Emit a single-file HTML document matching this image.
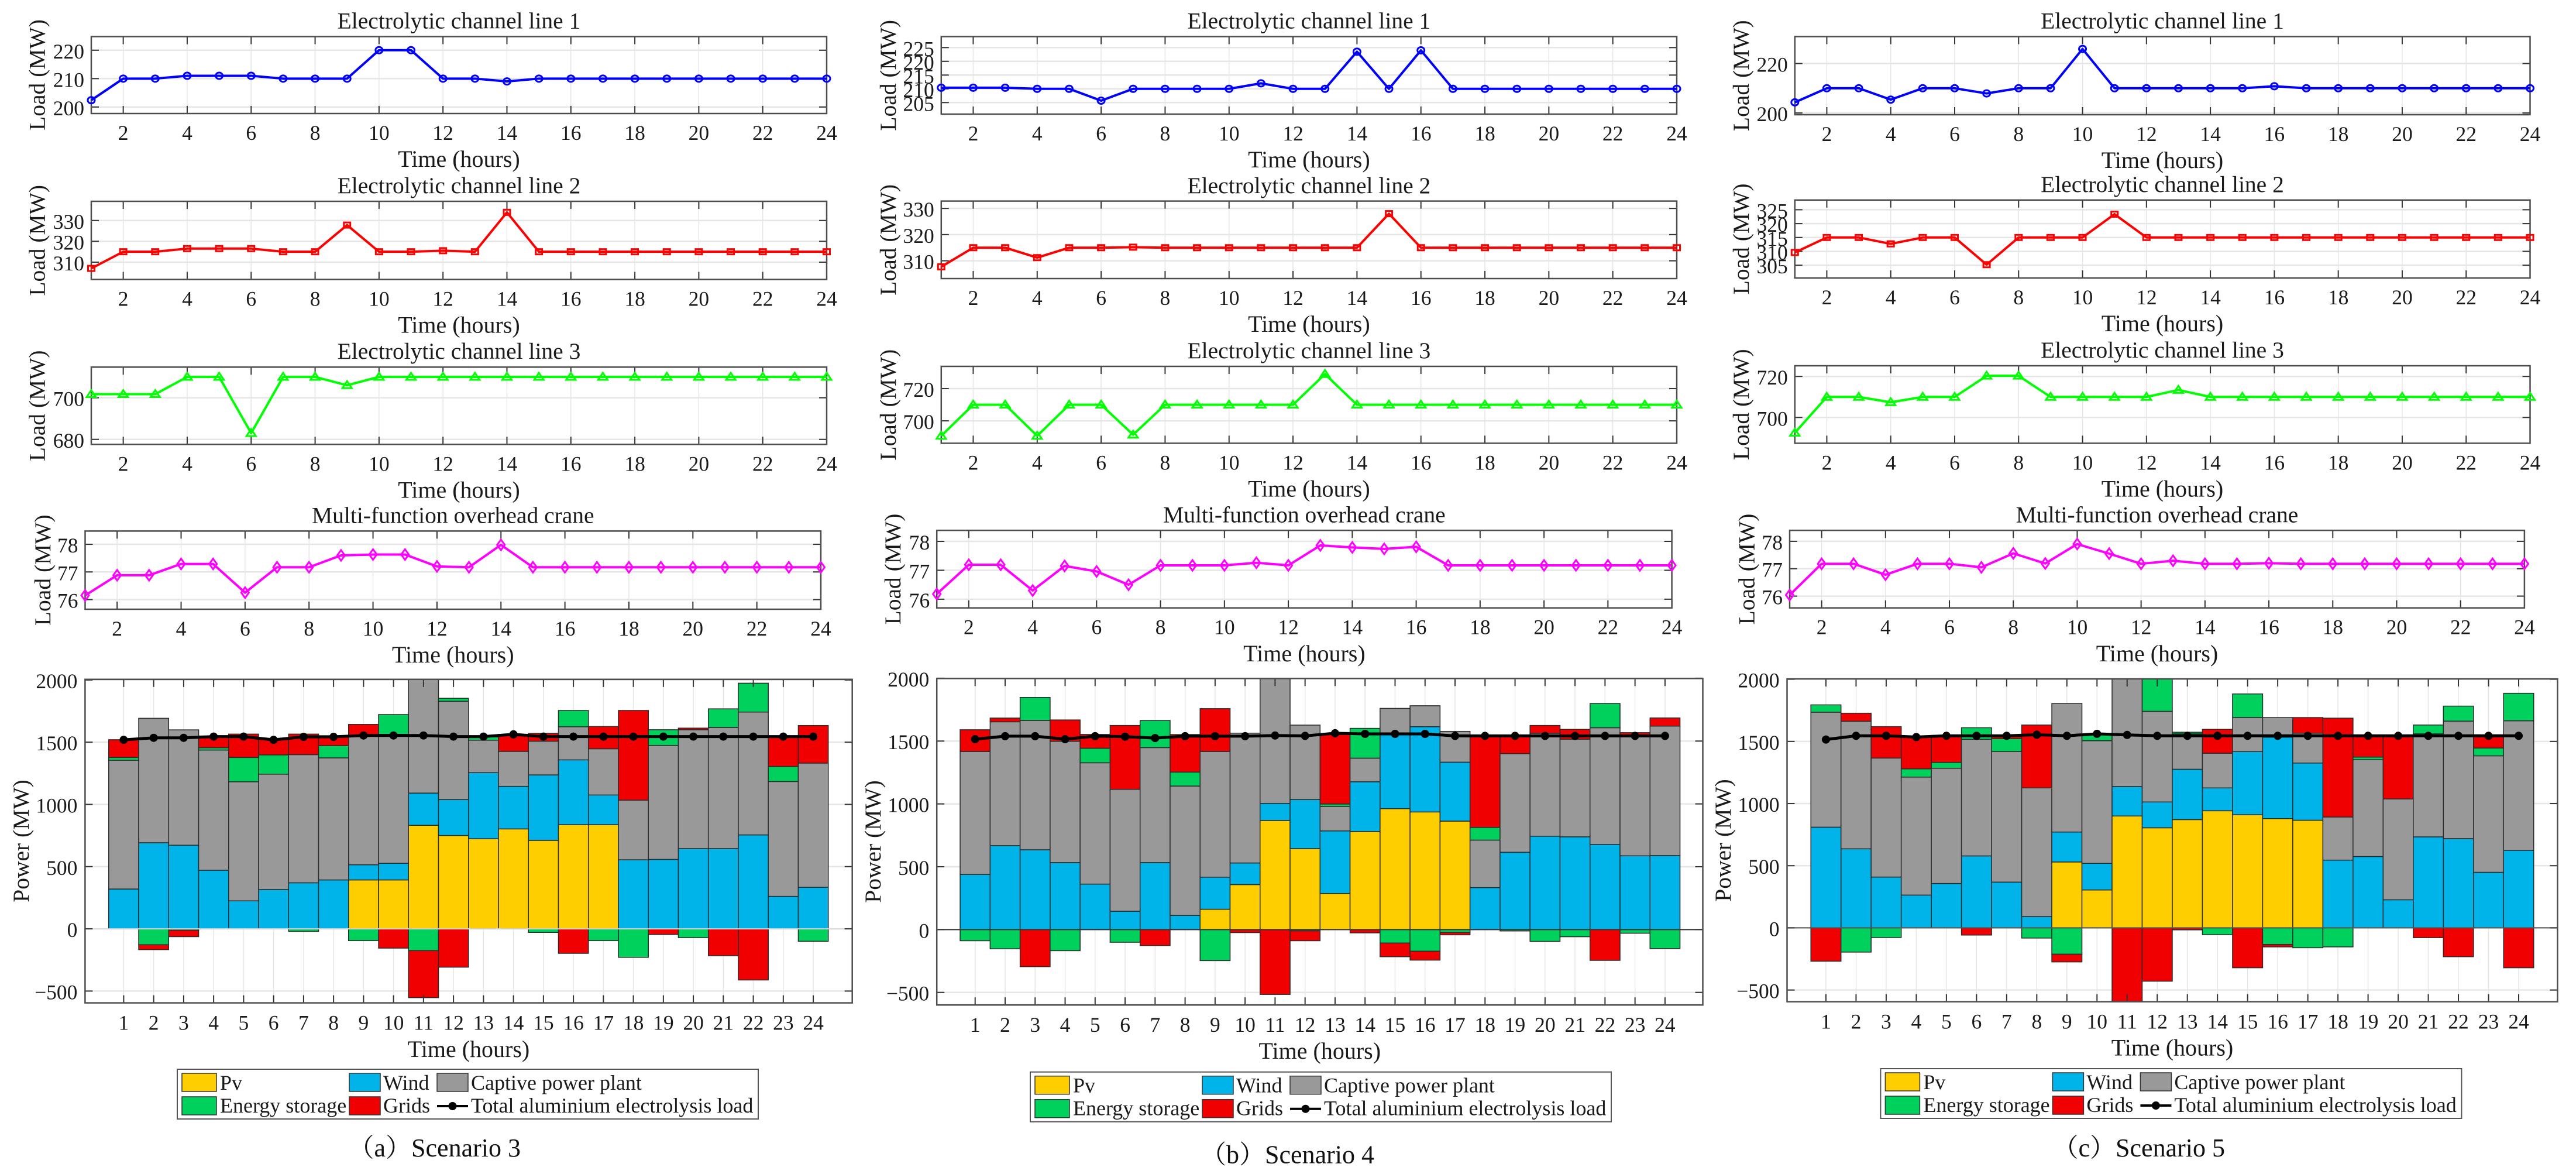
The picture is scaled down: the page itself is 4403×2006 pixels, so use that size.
<!DOCTYPE html>
<html lang="en">
<head>
<meta charset="utf-8">
<title>Load and power balance for scenarios 3, 4 and 5</title>
<style>
  html, body { margin: 0; padding: 0; background: #ffffff; }
  svg { display: block; }
  text { font-family: "Liberation Serif", "Noto Serif CJK SC", serif; fill: #1a1a1a; }
  .title { font-size: 39.5px; text-anchor: middle; }
  .xlabel { font-size: 40px; text-anchor: middle; }
  .ylabel { font-size: 39.5px; text-anchor: middle; }
  .legend-text { font-size: 36px; }
  .caption { font-size: 44px; text-anchor: end; fill: #111; }
</style>
</head>
<body>
<svg id="figure" xmlns="http://www.w3.org/2000/svg" width="4403" height="2006" viewBox="0 0 4403 2006">
  <rect x="0" y="0" width="4403" height="2006" fill="#ffffff"/>
  <g id="plots"></g>

  <g>
    <text class="title" x="784.5" y="48.5">Electrolytic channel line 1</text>
    <text class="title" x="784.5" y="330">Electrolytic channel line 2</text>
    <text class="title" x="784.5" y="613">Electrolytic channel line 3</text>
    <text class="title" x="774.3" y="893.5">Multi-function overhead crane</text>
    <text class="xlabel" x="784.5" y="285">Time (hours)</text>
    <text class="xlabel" x="784.5" y="568.5">Time (hours)</text>
    <text class="xlabel" x="784.5" y="850.5">Time (hours)</text>
    <text class="xlabel" x="774.3" y="1132">Time (hours)</text>
    <text class="xlabel" x="801" y="1806">Time (hours)</text>
    <text class="ylabel" transform="translate(76.5 128) rotate(-90)">Load (MW)</text>
    <text class="ylabel" transform="translate(76.5 410.8) rotate(-90)">Load (MW)</text>
    <text class="ylabel" transform="translate(76.5 693.3) rotate(-90)">Load (MW)</text>
    <text class="ylabel" transform="translate(86 974.2) rotate(-90)">Load (MW)</text>
    <text class="ylabel" transform="translate(49 1437) rotate(-90)">Power (MW)</text>
    <text class="caption" x="890" y="1976">（a）Scenario 3</text>
  </g>

  <g>
    <text class="title" x="2237.4" y="48.5">Electrolytic channel line 1</text>
    <text class="title" x="2237.4" y="330">Electrolytic channel line 2</text>
    <text class="title" x="2237.4" y="612">Electrolytic channel line 3</text>
    <text class="title" x="2229.4" y="892.5">Multi-function overhead crane</text>
    <text class="xlabel" x="2237.4" y="286">Time (hours)</text>
    <text class="xlabel" x="2237.4" y="567">Time (hours)</text>
    <text class="xlabel" x="2237.4" y="848.5">Time (hours)</text>
    <text class="xlabel" x="2229.4" y="1130">Time (hours)</text>
    <text class="xlabel" x="2255.8" y="1809">Time (hours)</text>
    <text class="ylabel" transform="translate(1531 128.8) rotate(-90)">Load (MW)</text>
    <text class="ylabel" transform="translate(1531 409.8) rotate(-90)">Load (MW)</text>
    <text class="ylabel" transform="translate(1531 691.7) rotate(-90)">Load (MW)</text>
    <text class="ylabel" transform="translate(1539 972.5) rotate(-90)">Load (MW)</text>
    <text class="ylabel" transform="translate(1505 1438) rotate(-90)">Power (MW)</text>
    <text class="caption" x="2349" y="1987.5">（b）Scenario 4</text>
  </g>

  <g>
    <text class="title" x="3696" y="48.5">Electrolytic channel line 1</text>
    <text class="title" x="3696" y="328">Electrolytic channel line 2</text>
    <text class="title" x="3696" y="611">Electrolytic channel line 3</text>
    <text class="title" x="3687" y="892.5">Multi-function overhead crane</text>
    <text class="xlabel" x="3696" y="287">Time (hours)</text>
    <text class="xlabel" x="3696" y="566">Time (hours)</text>
    <text class="xlabel" x="3696" y="848.5">Time (hours)</text>
    <text class="xlabel" x="3687" y="1130">Time (hours)</text>
    <text class="xlabel" x="3713" y="1803.6">Time (hours)</text>
    <text class="ylabel" transform="translate(2989 129.2) rotate(-90)">Load (MW)</text>
    <text class="ylabel" transform="translate(2989 408.4) rotate(-90)">Load (MW)</text>
    <text class="ylabel" transform="translate(2989 691.2) rotate(-90)">Load (MW)</text>
    <text class="ylabel" transform="translate(2998.7 972.5) rotate(-90)">Load (MW)</text>
    <text class="ylabel" transform="translate(2958 1436) rotate(-90)">Power (MW)</text>
    <text class="caption" x="3803" y="1976">（c）Scenario 5</text>
  </g>

  <g transform="translate(0 0)">
    <rect x="303" y="1827" width="993" height="85" fill="#fff" stroke="#555" stroke-width="2"/>
    <rect x="311" y="1834" width="59" height="31" fill="#ffce00" stroke="#333" stroke-width="1.5"/>
    <text class="legend-text" x="376" y="1862">Pv</text>
    <rect x="597" y="1834" width="53" height="31" fill="#00b4ea" stroke="#333" stroke-width="1.5"/>
    <text class="legend-text" x="655" y="1862">Wind</text>
    <rect x="747" y="1834" width="53" height="31" fill="#999999" stroke="#333" stroke-width="1.5"/>
    <text class="legend-text" x="805" y="1862">Captive power plant</text>
    <rect x="311" y="1874" width="59" height="31" fill="#00d05c" stroke="#333" stroke-width="1.5"/>
    <text class="legend-text" x="376" y="1901">Energy storage</text>
    <rect x="597" y="1874" width="53" height="31" fill="#f00000" stroke="#333" stroke-width="1.5"/>
    <text class="legend-text" x="655" y="1901">Grids</text>
    <line x1="747" x2="800" y1="1890" y2="1890" stroke="#000" stroke-width="4"/>
    <circle cx="773.5" cy="1890" r="7" fill="#000"/>
    <text class="legend-text" x="805" y="1901">Total aluminium electrolysis load</text>
  </g>

  <g transform="translate(1458 4.7)">
    <rect x="303" y="1827" width="993" height="85" fill="#fff" stroke="#555" stroke-width="2"/>
    <rect x="311" y="1834" width="59" height="31" fill="#ffce00" stroke="#333" stroke-width="1.5"/>
    <text class="legend-text" x="376" y="1862">Pv</text>
    <rect x="597" y="1834" width="53" height="31" fill="#00b4ea" stroke="#333" stroke-width="1.5"/>
    <text class="legend-text" x="655" y="1862">Wind</text>
    <rect x="747" y="1834" width="53" height="31" fill="#999999" stroke="#333" stroke-width="1.5"/>
    <text class="legend-text" x="805" y="1862">Captive power plant</text>
    <rect x="311" y="1874" width="59" height="31" fill="#00d05c" stroke="#333" stroke-width="1.5"/>
    <text class="legend-text" x="376" y="1901">Energy storage</text>
    <rect x="597" y="1874" width="53" height="31" fill="#f00000" stroke="#333" stroke-width="1.5"/>
    <text class="legend-text" x="655" y="1901">Grids</text>
    <line x1="747" x2="800" y1="1890" y2="1890" stroke="#000" stroke-width="4"/>
    <circle cx="773.5" cy="1890" r="7" fill="#000"/>
    <text class="legend-text" x="805" y="1901">Total aluminium electrolysis load</text>
  </g>

  <g transform="translate(2911.4 -1)">
    <rect x="303" y="1827" width="993" height="85" fill="#fff" stroke="#555" stroke-width="2"/>
    <rect x="311" y="1834" width="59" height="31" fill="#ffce00" stroke="#333" stroke-width="1.5"/>
    <text class="legend-text" x="376" y="1862">Pv</text>
    <rect x="597" y="1834" width="53" height="31" fill="#00b4ea" stroke="#333" stroke-width="1.5"/>
    <text class="legend-text" x="655" y="1862">Wind</text>
    <rect x="747" y="1834" width="53" height="31" fill="#999999" stroke="#333" stroke-width="1.5"/>
    <text class="legend-text" x="805" y="1862">Captive power plant</text>
    <rect x="311" y="1874" width="59" height="31" fill="#00d05c" stroke="#333" stroke-width="1.5"/>
    <text class="legend-text" x="376" y="1901">Energy storage</text>
    <rect x="597" y="1874" width="53" height="31" fill="#f00000" stroke="#333" stroke-width="1.5"/>
    <text class="legend-text" x="655" y="1901">Grids</text>
    <line x1="747" x2="800" y1="1890" y2="1890" stroke="#000" stroke-width="4"/>
    <circle cx="773.5" cy="1890" r="7" fill="#000"/>
    <text class="legend-text" x="805" y="1901">Total aluminium electrolysis load</text>
  </g>
</svg>

<script>
// ---------- categories and tick labels ----------
const hours = [1,2,3,4,5,6,7,8,9,10,11,12,13,14,15,16,17,18,19,20,21,22,23,24];
const lineHourTicks = [2,4,6,8,10,12,14,16,18,20,22,24];
const powerTicks = [-500,0,500,1000,1500,2000];

const s3Line1Ticks = [200,210,220];
const s3Line2Ticks = [310,320,330];
const s3Line3Ticks = [680,700];
const s3CraneTicks = [76,77,78];
const s4Line1Ticks = [205,210,215,220,225];
const s4Line2Ticks = [310,320,330];
const s4Line3Ticks = [700,720];
const s4CraneTicks = [76,77,78];
const s5Line1Ticks = [200,220];
const s5Line2Ticks = [305,310,315,320,325];
const s5Line3Ticks = [700,720];
const s5CraneTicks = [76,77,78];

// ---------- Scenario 3 load lines ----------
const s3Line1 = [202.4,210,210,211,211,211,210,210,210,220,220,210,210,209,210,210,210,210,210,210,210,210,210,210];
const s3Line2 = [307,315,315,316.5,316.5,316.5,315,315,327.8,315,315,315.5,315,333.9,315,315,315,315,315,315,315,315,315,315];
const s3Line3 = [701.7,701.7,701.7,710,710,683,710,710,706,710,710,710,710,710,710,710,710,710,710,710,710,710,710,710];
const s3Crane = [76.15,76.88,76.88,77.29,77.29,76.25,77.17,77.17,77.6,77.63,77.63,77.2,77.17,77.98,77.17,77.17,77.17,77.17,77.17,77.17,77.17,77.17,77.17,77.17];

// ---------- Scenario 4 load lines ----------
const s4Line1 = [210.4,210.4,210.4,210,210,205.7,210,210,210,210,212,210,210,223.5,210,224,210,210,210,210,210,210,210,210];
const s4Line2 = [307.7,315,315,311.2,315,315,315.2,315,315,315,315,315,315,315,328,315,315,315,315,315,315,315,315,315];
const s4Line3 = [690.7,710,710,690.7,710,710,691.4,710,710,710,710,710,729,710,710,710,710,710,710,710,710,710,710,710];
const s4Crane = [76.18,77.19,77.19,76.3,77.15,76.96,76.5,77.17,77.17,77.17,77.26,77.17,77.86,77.79,77.74,77.81,77.17,77.17,77.17,77.17,77.17,77.17,77.17,77.17];

// ---------- Scenario 5 load lines ----------
const s5Line1 = [204.3,210,210,205.4,210,210,207.9,210,210,225.9,210,210,210,210,210,210.8,210,210,210,210,210,210,210,210];
const s5Line2 = [309.6,315,315,312.7,315,315,305.2,315,315,315,323.4,315,315,315,315,315,315,315,315,315,315,315,315,315];
const s5Line3 = [692.5,710,710,707.4,710,710,720.3,720.3,710,710,710,710,713.4,710,710,710,710,710,710,710,710,710,710,710];
const s5Crane = [76.04,77.18,77.18,76.78,77.18,77.18,77.05,77.56,77.19,77.9,77.55,77.18,77.29,77.18,77.18,77.2,77.18,77.18,77.18,77.18,77.18,77.18,77.18,77.18];

// ---------- Scenario 3 power balance (MW) ----------
const s3Pv      = [0,0,0,0,0,0,0,0,393,393,832,750,724,803,711,837,837,0,0,0,0,0,0,0];
const s3Wind    = [320,692,672,471,225,316,370,393,122,134,259,289,531,342,526,521,239,555,558,645,645,755,261,334];
const s3Captive = [1035,1000,927,966,957,927,1030,981,1032,1036,1000,790,261,281,271,266,371,479,916,955,973,987,923,998];
const s3Storage = [22,-128,-11,18,195,155,-20,98,-95,159,-175,24,26,0,-29,131,-95,-229,126,-71,150,232,121,-100];
const s3Grid    = [143,-39,-52,95,188,132,165,80,96,-155,-378,-308,0,137,63,-197,179,721,-45,13,-216,-411,237,302];
const s3Load    = [1519,1535,1535,1545,1545,1519,1543,1543,1554,1554,1554,1545,1545,1563,1545,1545,1545,1545,1545,1545,1545,1545,1545,1545];

// ---------- Scenario 4 power balance (MW) ----------
const s4Pv      = [0,0,0,0,0,0,0,0,162,358,868,644,287,780,962,936,863,0,0,0,0,0,0,0];
const s4Wind    = [439,668,635,533,362,146,533,113,255,172,136,391,498,396,589,678,469,334,615,743,738,678,587,589];
const s4Captive = [978,985,1029,965,965,970,915,1029,1000,1033,1040,592,195,188,209,167,245,378,785,819,777,928,949,1030];
const s4Storage = [-89,-153,183,-168,116,-101,216,111,-247,0,0,-10,19,237,-107,-172,-23,101,-11,-94,-57,193,-29,-151];
const s4Grid    = [173,30,-295,170,110,508,-127,299,341,-24,-516,-79,553,-26,-109,-71,-19,728,141,62,78,-245,31,65];
const s4Load    = [1515,1539,1539,1515,1539,1535,1524,1539,1539,1539,1544,1541,1562,1557,1557,1557,1541,1541,1541,1541,1541,1541,1541,1541];

// ---------- Scenario 5 power balance (MW) ----------
const s5Pv      = [0,0,0,0,0,0,0,0,530,305,900,805,871,942,910,879,866,0,0,0,0,0,0,0];
const s5Wind    = [810,636,409,264,357,579,368,91,241,214,237,208,405,184,508,655,460,545,574,226,732,718,447,624];
const s5Captive = [925,1026,957,949,927,938,1050,1035,1034,987,963,729,285,279,274,158,240,347,779,811,829,945,937,1042];
const s5Storage = [59,-195,-78,66,47,93,104,-82,-212,46,0,270,13,-55,190,-134,-160,-153,21,0,71,121,63,221];
const s5Grid    = [-268,65,253,260,217,-58,17,506,-62,0,-620,-429,-16,192,-321,-19,126,795,171,508,-79,-232,106,-321];
const s5Load    = [1515,1545,1545,1535,1545,1545,1545,1554,1545,1561,1552,1545,1545,1545,1545,1545,1545,1545,1545,1545,1545,1545,1545,1545];

// ---------- layout (positions and styles, separate from data) ----------
const NS = 'http://www.w3.org/2000/svg';
const plots = document.getElementById('plots');
const BLUE = '#0000ff', RED = '#ff0000', GREEN = '#00ff00', MAGENTA = '#ff00ff';

const linePanels = [
  { id:'s3-line1', L:156, R:1413, T:62.5, B:194, yMin:197.7, yMax:224.8, values:s3Line1, ticks:s3Line1Ticks, color:BLUE, marker:'circle' },
  { id:'s3-line2', L:156, R:1413, T:344, B:477.5, yMin:301.7, yMax:339.2, values:s3Line2, ticks:s3Line2Ticks, color:RED, marker:'square' },
  { id:'s3-line3', L:156, R:1413, T:627.3, B:759.3, yMin:677.6, yMax:714.7, values:s3Line3, ticks:s3Line3Ticks, color:GREEN, marker:'triangle' },
  { id:'s3-crane', L:145.5, R:1403, T:907.4, B:1041, yMin:75.65, yMax:78.48, values:s3Crane, ticks:s3CraneTicks, color:MAGENTA, marker:'diamond' },
  { id:'s4-line1', L:1608.8, R:2866, T:62.5, B:195, yMin:200.8, yMax:229, values:s4Line1, ticks:s4Line1Ticks, color:BLUE, marker:'circle' },
  { id:'s4-line2', L:1608.8, R:2866, T:343.6, B:476, yMin:303.2, yMax:332.8, values:s4Line2, ticks:s4Line2Ticks, color:RED, marker:'square' },
  { id:'s4-line3', L:1608.8, R:2866, T:626, B:757.4, yMin:686.1, yMax:733.8, values:s4Line3, ticks:s4Line3Ticks, color:GREEN, marker:'triangle' },
  { id:'s4-crane', L:1601.2, R:2857.6, T:906.2, B:1038.7, yMin:75.7, yMax:78.38, values:s4Crane, ticks:s4CraneTicks, color:MAGENTA, marker:'diamond' },
  { id:'s5-line1', L:3067.8, R:4324.5, T:62.5, B:196, yMin:199.3, yMax:230.9, values:s5Line1, ticks:s5Line1Ticks, color:BLUE, marker:'circle' },
  { id:'s5-line2', L:3067.8, R:4324.5, T:341.8, B:475, yMin:300.4, yMax:328.5, values:s5Line2, ticks:s5Line2Ticks, color:RED, marker:'square' },
  { id:'s5-line3', L:3067.8, R:4324.5, T:625, B:757.4, yMin:687.4, yMax:725.2, values:s5Line3, ticks:s5Line3Ticks, color:GREEN, marker:'triangle' },
  { id:'s5-crane', L:3059, R:4314.9, T:906.2, B:1038.7, yMin:75.57, yMax:78.4, values:s5Crane, ticks:s5CraneTicks, color:MAGENTA, marker:'diamond' }
];

const barPanels = [
  { id:'s3-power', L:145.4, R:1456.7, T:1160.8, B:1713.6, xMin:-0.288, xMax:25.3, yMin:-595, yMax:2005, zero:'#d8d8d8',
    pv:s3Pv, wind:s3Wind, captive:s3Captive, storage:s3Storage, grid:s3Grid, load:s3Load },
  { id:'s4-power', L:1601.2, R:2910.5, T:1159.3, B:1717.2, xMin:-0.278, xMax:25.26, yMin:-600, yMax:1998, zero:'#333333',
    pv:s4Pv, wind:s4Wind, captive:s4Captive, storage:s4Storage, grid:s4Grid, load:s4Load },
  { id:'s5-power', L:3054.5, R:4371.4, T:1160, B:1711.6, xMin:-0.291, xMax:25.29, yMin:-594, yMax:2003, zero:'#555555',
    pv:s5Pv, wind:s5Wind, captive:s5Captive, storage:s5Storage, grid:s5Grid, load:s5Load }
];

const barColors = { pv:'#ffce00', wind:'#00b4ea', captive:'#999999', storage:'#00d05c', grid:'#f00000' };

// ---------- helpers ----------
function make(tag, attrs, parent) {
  const el = document.createElementNS(NS, tag);
  for (const k in attrs) el.setAttribute(k, attrs[k]);
  parent.appendChild(el);
  return el;
}
function scale(d0, d1, r0, r1) {
  return function (v) { return r0 + (v - d0) * (r1 - r0) / (d1 - d0); };
}
function drawAxesFrame(g, p, xTicks, xFn, yTicks, yFn, labelBelow, fontSize, labelGap) {
  for (const v of xTicks) {
    const x = xFn(v);
    const t1 = make('line', { x1:x, x2:x, y1:p.B, y2:p.B - 13, stroke:'#333', 'stroke-width':2 }, g);
    
    
    const t2 = make('line', { x1:x, x2:x, y1:p.T, y2:p.T + 13, stroke:'#333', 'stroke-width':2 }, g);
    
    
    const lab = make('text', { x:x, y:p.B + labelBelow, 'text-anchor':'middle', 'font-size':fontSize }, g);
    lab.textContent = String(v);
    
    
  }
  for (const v of yTicks) {
    const y = yFn(v);
    const t1 = make('line', { x1:p.L, x2:p.L + 13, y1:y, y2:y, stroke:'#333', 'stroke-width':2 }, g);
    
    
    const t2 = make('line', { x1:p.R, x2:p.R - 13, y1:y, y2:y, stroke:'#333', 'stroke-width':2 }, g);
    
    
    const lab = make('text', { x:p.L - labelGap, y:y + 14, 'text-anchor':'end', 'font-size':fontSize }, g);
    lab.textContent = v < 0 ? '\u2212' + Math.abs(v) : String(v);
    
    
  }
  const box = make('rect', { x:p.L, y:p.T, width:p.R - p.L, height:p.B - p.T, fill:'none', stroke:'#4d4d4d', 'stroke-width':2.5 }, g);
  
  
}
function drawGrid(g, p, xTicks, xFn, yTicks, yFn) {
  for (const v of xTicks) {
    const x = xFn(v);
    const l = make('line', { x1:x, x2:x, y1:p.T, y2:p.B, stroke:'#e6e6e6', 'stroke-width':1.5 }, g);
    
    
  }
  for (const v of yTicks) {
    const y = yFn(v);
    const l = make('line', { x1:p.L, x2:p.R, y1:y, y2:y, stroke:'#e6e6e6', 'stroke-width':2.5 }, g);
    
    
  }
}
function drawMarker(g, kind, x, y, color) {
  const style = { fill:'none', stroke:color, 'stroke-width':3 };
  let el;
  if (kind === 'circle') {
    el = make('ellipse', Object.assign({ cx:x, cy:y, rx:6, ry:5.5 }, style), g);
  } else if (kind === 'square') {
    el = make('rect', Object.assign({ x:x - 5.5, y:y - 4.5, width:11, height:9 }, style), g);
  } else if (kind === 'triangle') {
    el = make('polygon', Object.assign({ points:(x - 8) + ',' + (y + 5) + ' ' + (x + 8) + ',' + (y + 5) + ' ' + x + ',' + (y - 7) }, style), g);
  } else {
    el = make('polygon', Object.assign({ points:x + ',' + (y - 9) + ' ' + (x + 6.5) + ',' + y + ' ' + x + ',' + (y + 9) + ' ' + (x - 6.5) + ',' + y }, style), g);
  }
  return el;
}

// ---------- line panels ----------
function drawLinePanel(p) {
  const g = make('g', {}, plots);
  
  
  const xFn = scale(1, 24, p.L, p.R);
  const yFn = scale(p.yMin, p.yMax, p.B, p.T);
  drawGrid(g, p, lineHourTicks, xFn, p.ticks, yFn);
  drawAxesFrame(g, p, lineHourTicks, xFn, p.ticks, yFn, 45, 35.5, 12);
  const pts = hours.map(function (h, i) { return xFn(h) + ',' + yFn(p.values[i]); }).join(' ');
  const line = make('polyline', { points:pts, fill:'none', stroke:p.color, 'stroke-width':4, 'stroke-linejoin':'round' }, g);
  
  
  hours.forEach(function (h, i) {
    const m = drawMarker(g, p.marker, xFn(h), yFn(p.values[i]), p.color);
    
    
  });
}

// ---------- stacked bar panels ----------
function drawBarPanel(p) {
  const g = make('g', {}, plots);
  
  
  const xFn = scale(p.xMin, p.xMax, p.L, p.R);
  const yFn = scale(p.yMin, p.yMax, p.B, p.T);
  const clipId = p.id + '-clip';
  const defs = make('defs', {}, g);
  const cp = make('clipPath', { id:clipId }, defs);
  make('rect', { x:p.L, y:p.T, width:p.R - p.L, height:p.B - p.T }, cp);

  drawGrid(g, p, hours, xFn, powerTicks, yFn);

  const bars = make('g', { 'clip-path':'url(#' + clipId + ')' }, g);
  
  
  const order = ['pv', 'wind', 'captive', 'storage', 'grid'];
  hours.forEach(function (h, i) {
    let pos = 0, neg = 0;
    for (const key of order) {
      const v = p[key][i];
      if (!v) continue;
      let from, to;
      if (v > 0) { from = pos; to = pos + v; pos = to; }
      else { from = neg; to = neg + v; neg = to; }
      const yA = yFn(Math.max(from, to));
      const yB = yFn(Math.min(from, to));
      const r = make('rect', {
        x:xFn(h - 0.5), y:yA, width:xFn(h + 0.5) - xFn(h - 0.5), height:yB - yA,
        fill:barColors[key], stroke:'#2a2a2a', 'stroke-width':1.5
      }, bars);
      
      
    }
  });

  const zero = make('line', { x1:p.L, x2:p.R, y1:yFn(0), y2:yFn(0), stroke:p.zero, 'stroke-width':2 }, g);
  
  

  drawAxesFrame(g, p, hours, xFn, powerTicks, yFn, 46, 35.5, 13);

  const pts = hours.map(function (h, i) { return xFn(h) + ',' + yFn(p.load[i]); }).join(' ');
  const line = make('polyline', { points:pts, fill:'none', stroke:'#000', 'stroke-width':5, 'stroke-linejoin':'round' }, g);
  
  
  hours.forEach(function (h, i) {
    const c = make('circle', { cx:xFn(h), cy:yFn(p.load[i]), r:7, fill:'#000' }, g);
    
    
  });
}

linePanels.forEach(drawLinePanel);
barPanels.forEach(drawBarPanel);
</script>
</body>
</html>
